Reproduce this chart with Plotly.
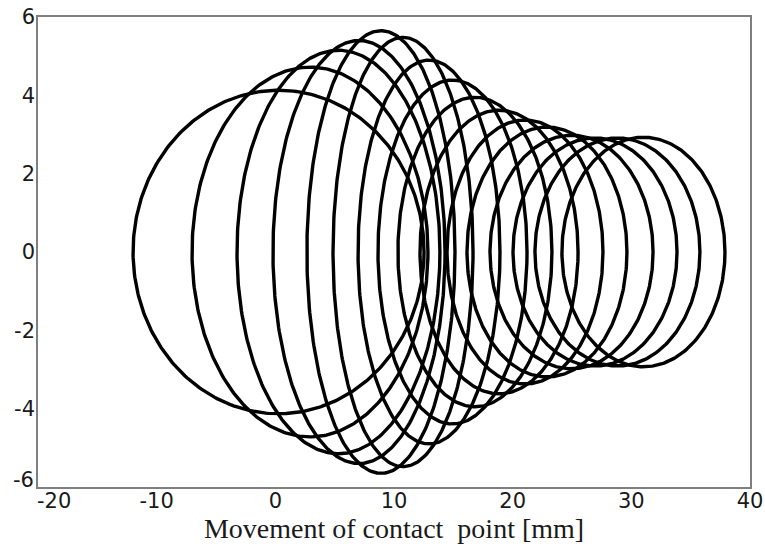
import numpy as np
import plotly.graph_objects as go

# Contact ellipses along the path: centre position, longitudinal and lateral semi-axes [mm]
center_x = [0.27, 2.92, 5.32, 7.05, 8.90, 10.76, 12.95, 14.93, 16.82,
            18.85, 21.04, 22.89, 24.96, 26.94, 28.83, 31.02]
semi_a = [12.26, 9.94, 8.55, 7.25, 6.24, 5.90, 5.98, 6.28, 6.49,
          6.66, 6.57, 6.74, 6.87, 6.91, 6.95, 6.87]
semi_b = [4.13, 4.72, 5.15, 5.40, 5.65, 5.48, 4.90, 4.39, 3.95,
          3.62, 3.37, 3.19, 2.98, 2.91, 2.91, 2.93]

# corner labels (-20 on x, -6 on y) are placed separately so they do not collide
x_ticks = [-10, 0, 10, 20, 30, 40]
x_tick_text = ["-10", "0", "10", "20", "30", "40"]
x_left = -20
y_ticks = [-4, -2, 0, 2, 4, 6]
y_tick_text = ["-4", "-2", "0", "2", "4", "6"]
y_bottom = -6

theta = np.linspace(0, 2 * np.pi, 361)

fig = go.Figure()
for cx, a, b in zip(center_x, semi_a, semi_b):
    fig.add_trace(go.Scatter(
        x=cx + a * np.cos(theta),
        y=b * np.sin(theta),
        mode="lines",
        line=dict(color="black", width=3.4),
        hoverinfo="skip",
        showlegend=False,
    ))

tick_font = dict(family="DejaVu Sans, Verdana, sans-serif", size=21, color="#1a1a1a")
frame = dict(showline=True, linecolor="#7f7f7f", linewidth=1.5, mirror=True,
             showgrid=False, zeroline=False, ticks="", automargin=False)

fig.add_annotation(
    text=str(y_bottom), xref="paper", x=0, yref="y", y=y_bottom,
    xanchor="right", yanchor="middle", xshift=-3, yshift=7,
    showarrow=False, font=tick_font, borderpad=0,
)
fig.add_annotation(
    text=str(x_left), xref="x", x=x_left, yref="paper", y=0,
    xanchor="center", yanchor="top", xshift=16, yshift=-1,
    showarrow=False, font=tick_font, borderpad=0,
)

fig.update_layout(
    width=765, height=551,
    margin=dict(l=38, r=15, t=17, b=64),
    paper_bgcolor="white", plot_bgcolor="white",
    xaxis=dict(range=[-20, 40], tickvals=x_ticks, ticktext=x_tick_text,
               tickfont=tick_font, ticklabelstandoff=-6,
               title=dict(text="Movement of contact\u00a0 point [mm]",
                          font=dict(family="Liberation Serif, Times New Roman, serif",
                                    size=28, color="#1a1a1a"),
                          standoff=0),
               **frame),
    yaxis=dict(range=[-6, 6], tickvals=y_ticks, ticktext=y_tick_text,
               tickfont=tick_font, ticklabelstandoff=-3, **frame),
)

fig.write_html("out.html")
